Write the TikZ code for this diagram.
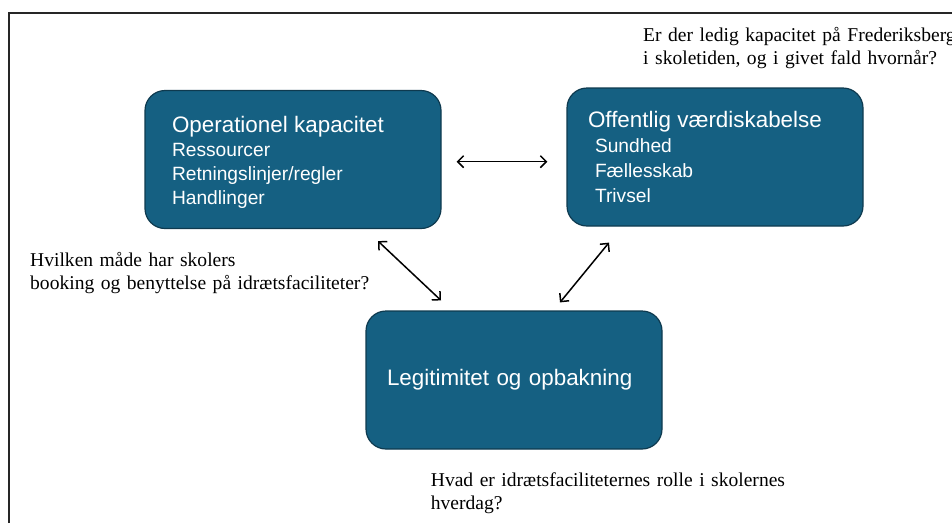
\documentclass[tikz,border=0pt]{standalone}
\usepackage{fontspec}
\setmainfont{Liberation Serif}
\setsansfont{Liberation Sans}
\usetikzlibrary{arrows.meta,positioning,calc}
\definecolor{boxteal}{HTML}{156082}
\definecolor{boxedge}{HTML}{0E3A4F}
\newcommand{\boxtitle}{\fontsize{22.4}{24}\selectfont}
\newcommand{\boxitem}[1]{\fontsize{19.2}{#1}\selectfont}
\newcommand{\qfont}{\fontsize{19.56}{23}\selectfont}

\begin{document}
\begin{tikzpicture}[x=1pt,y=-1pt,
  pillar/.style={draw=boxedge,line width=1.2pt,fill=boxteal,rounded corners=20pt,
    minimum width=296pt,minimum height=138pt,inner ysep=0pt,
    text=white,align=left},
  question/.style={anchor=base west,inner sep=0pt,align=left,font=\qfont},
  link/.style={{Straight Barb[length=6pt,width=12pt]}-{Straight Barb[length=6pt,width=12pt]},
    line width=1.5pt}]

  % ---- Page frame ---------------------------------------------
  \useasboundingbox (0,0) rectangle (952,523);
  \draw[line width=1.5pt,black!85] (9,523) -- (9,13) -- (952,13);

  % ============================================================
  %  The three boxes
  % ============================================================
  \node[pillar,font=\sffamily\boxitem{24},inner xsep=27pt,text width=242pt] (ops) at (293,159.5)
    {{\boxtitle\rule{0pt}{22pt}Operationel kapacitet}\\
     Ressourcer\\
     Retningslinjer/regler\\
     Handlinger};
  \node[pillar,font=\sffamily\boxitem{25.3},inner xsep=21pt,text width=254pt] (val) at (715,157)
    {{\boxtitle Offentlig værdiskabelse}\\
     \hspace*{7pt}Sundhed\\
     \hspace*{7pt}Fællesskab\\
     \hspace*{7pt}Trivsel};
  \node[pillar,font=\sffamily\boxtitle,inner xsep=21pt,text width=254pt] (leg) at (514,380)
    {Legitimitet og opbakning};

  % ---- Arrows between the boxes -------------------------------
  \draw[link] ($(ops.east)+(15,2.2)$) -- ($(val.west)+(-19,4.7)$);
  \draw[link] ($(ops.south)+(85,12)$) -- ($(leg.north)+(-73,-10)$);
  \draw[link] ($(val.south)+(-106,16)$) -- ($(leg.north)+(46,-8)$);

  % ============================================================
  %  Questions
  % ============================================================
  \node[question,text width=400pt] (qcap) at (643,41.7)
    {Er der ledig kapacitet på Frederiksberg\\
     i skoletiden, og i givet fald hvornår?};
  \node[question,text width=380pt] (quse) at (30,266)
    {Hvilken måde har skolers\\
     booking og benyttelse på idrætsfaciliteter?};
  \node[question,text width=420pt] (qrole) at (430.7,486.7)
    {Hvad er idrætsfaciliteternes rolle i skolernes\\
     hverdag?};

\end{tikzpicture}
\end{document}
